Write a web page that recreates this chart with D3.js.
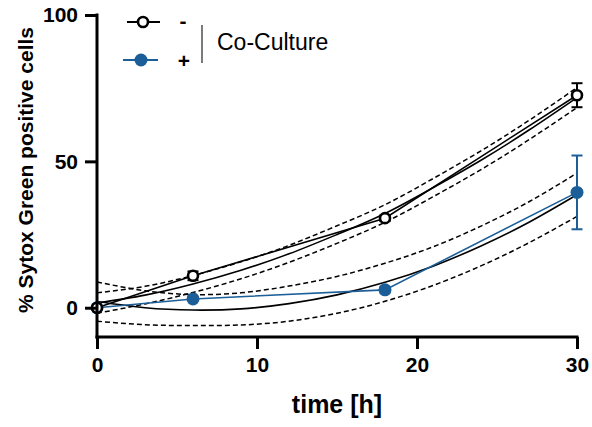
<!DOCTYPE html>
<html>
<head>
<meta charset="utf-8">
<script src="https://cdn.jsdelivr.net/npm/d3@7"></script>
<style>
html,body{margin:0;padding:0;background:#fff;}
svg{display:block;font-family:"Liberation Sans",Arial,Helvetica,sans-serif;}
</style>
</head>
<body>
<svg id="chart" width="592" height="427"></svg>
<script>
// ---- data ----
const timePoints = [0, 6, 18, 30];
const minusMean = [0, 10.9, 30.6, 72.6];
const minusErr  = [0, 1.5, 1.0, 4.1];
const plusMean  = [0, 3.0, 6.1, 39.4];
const plusErr   = [0, 0.6, 1.0, 12.6];

// fitted curves and 95% bands, read at these times
const fitTimes   = [0, 3, 6, 9, 12, 15, 18, 21, 24, 27, 30];
const minusFit   = [1.6, 4.3, 8.1, 12.8, 18.4, 25.0, 32.2, 41.0, 50.4, 60.7, 71.8];
const minusLower = [-1.9, 1.3, 5.2, 9.9, 15.5, 22.0, 29.2, 37.9, 47.2, 57.4, 68.4];
const minusUpper = [5.1, 7.3, 11.0, 15.7, 21.3, 28.0, 35.2, 44.1, 53.6, 64.0, 75.2];
const plusFit    = [2.1, 0.0, -0.8, -0.4, 1.4, 4.4, 8.7, 14.2, 21.1, 29.2, 38.6];
const plusLower  = [-4.6, -5.8, -6.1, -5.9, -4.6, -1.9, 2.2, 7.6, 14.3, 22.2, 31.2];
const plusUpper  = [8.8, 5.8, 4.5, 5.1, 7.4, 10.7, 15.2, 20.8, 27.9, 36.2, 46.0];

const xTicks = [0, 10, 20, 30];
const yTicks = [0, 50, 100];
const legendLabels = ["-", "+"];
const legendTitle = "Co-Culture";
const xTitle = "time [h]";
const yTitle = "% Sytox Green positive cells";

// ---- drawing ----
const blue = "#1b5e98";
const svg = d3.select("#chart");
const x = d3.scaleLinear().domain([0, 30]).range([97, 577]);
const y = d3.scaleLinear().domain([-10, 100]).range([337, 15]);

const band = (ts, vs) => ts.map((t, i) => [t, vs[i]]);
const curve = d3.line().x(d => x(d[0])).y(d => y(d[1])).curve(d3.curveNatural);
const straight = d3.line().x(d => x(d[0])).y(d => y(d[1]));

const plot = svg.append("g");

// dashed confidence bands
[minusLower, minusUpper, plusLower, plusUpper].forEach(arr => {
  plot.append("path").attr("d", curve(band(fitTimes, arr)))
    .attr("fill", "none").attr("stroke", "#000").attr("stroke-width", 1.5)
    .attr("stroke-dasharray", "5,3");
});
// fitted curves
[minusFit, plusFit].forEach(arr => {
  plot.append("path").attr("d", curve(band(fitTimes, arr)))
    .attr("fill", "none").attr("stroke", "#000").attr("stroke-width", 1.6);
});
// connecting lines
plot.append("path").attr("d", straight(band(timePoints, plusMean)))
  .attr("fill", "none").attr("stroke", blue).attr("stroke-width", 1.6);
plot.append("path").attr("d", straight(band(timePoints, minusMean)))
  .attr("fill", "none").attr("stroke", "#000").attr("stroke-width", 1.6);

// error bars
function errBars(means, errs, color) {
  timePoints.forEach((t, i) => {
    if (errs[i] <= 0) return;
    const g = plot.append("g").attr("stroke", color).attr("stroke-width", 2);
    const cx = x(t), y1 = y(means[i] + errs[i]), y0 = y(means[i] - errs[i]);
    g.append("line").attr("x1", cx).attr("x2", cx).attr("y1", y1).attr("y2", y0);
    g.append("line").attr("x1", cx - 5.5).attr("x2", cx + 5.5).attr("y1", y1).attr("y2", y1);
    g.append("line").attr("x1", cx - 5.5).attr("x2", cx + 5.5).attr("y1", y0).attr("y2", y0);
  });
}
errBars(plusMean, plusErr, blue);
errBars(minusMean, minusErr, "#000");

// markers
plot.selectAll("circle.plus").data(timePoints).join("circle").attr("class", "plus")
  .attr("cx", d => x(d)).attr("cy", (d, i) => y(plusMean[i])).attr("r", 6.5)
  .attr("fill", blue);
plot.selectAll("circle.minus").data(timePoints).join("circle").attr("class", "minus")
  .attr("cx", d => x(d)).attr("cy", (d, i) => y(minusMean[i])).attr("r", 5)
  .attr("fill", "#fff").attr("stroke", "#000").attr("stroke-width", 2.6);

// axes
const xAxis = svg.append("g").attr("transform", "translate(0,337)")
  .call(d3.axisBottom(x).tickValues(xTicks).tickSize(12).tickPadding(8).tickFormat(d3.format("d")));
const yAxis = svg.append("g").attr("transform", "translate(97,0)")
  .call(d3.axisLeft(y).tickValues(yTicks).tickSize(12).tickPadding(7).tickFormat(d3.format("d")));
[xAxis, yAxis].forEach(a => {
  a.select(".domain").attr("stroke", "#000").attr("stroke-width", 3);
  a.selectAll(".tick line").attr("stroke", "#000").attr("stroke-width", 3);
  a.selectAll(".tick text").attr("fill", "#000").attr("font-size", 21)
    .attr("font-weight", "bold").attr("font-family", "Liberation Sans, Arial, sans-serif");
});
xAxis.select(".domain").attr("d", `M${x(0) - 1.5},0H${x(30) + 1.5}`);
yAxis.select(".domain").attr("d", `M0,${y(100) - 1.5}V${337 + 1.5}`);

svg.append("text").attr("x", 337).attr("y", 413).attr("text-anchor", "middle")
  .attr("font-size", 25).attr("font-weight", "bold").text(xTitle);
svg.append("text").attr("transform", "translate(33,170) rotate(-90)")
  .attr("text-anchor", "middle").attr("font-size", 21).attr("font-weight", "bold").text(yTitle);

// legend
const lg = svg.append("g");
lg.append("line").attr("x1", 127).attr("x2", 160).attr("y1", 22).attr("y2", 22)
  .attr("stroke", "#000").attr("stroke-width", 2);
lg.append("circle").attr("cx", 143).attr("cy", 22).attr("r", 5)
  .attr("fill", "#fff").attr("stroke", "#000").attr("stroke-width", 2.6);
lg.append("line").attr("x1", 123).attr("x2", 158).attr("y1", 60).attr("y2", 60)
  .attr("stroke", blue).attr("stroke-width", 2);
lg.append("circle").attr("cx", 141).attr("cy", 60).attr("r", 6.5).attr("fill", blue);
lg.append("text").attr("x", 183).attr("y", 28).attr("text-anchor", "middle")
  .attr("font-size", 21).attr("font-weight", "bold").text(legendLabels[0]);
lg.append("text").attr("x", 184).attr("y", 68).attr("text-anchor", "middle")
  .attr("font-size", 21).attr("font-weight", "bold").text(legendLabels[1]);
lg.append("line").attr("x1", 202).attr("x2", 202).attr("y1", 25).attr("y2", 63)
  .attr("stroke", "#222").attr("stroke-width", 1.2);
lg.append("text").attr("x", 217).attr("y", 50).attr("font-size", 23).text(legendTitle);
</script>
</body>
</html>
